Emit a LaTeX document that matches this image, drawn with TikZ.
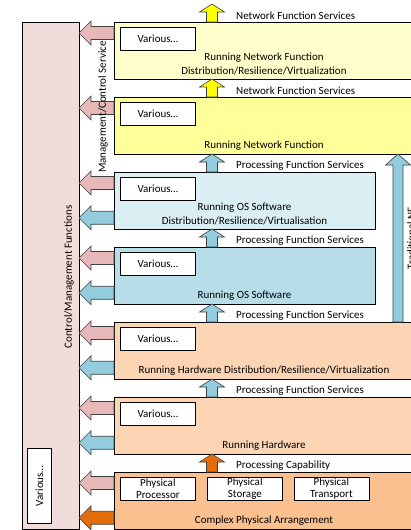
\documentclass[tikz,border=0pt]{standalone}
\usepackage{fontspec}
\setmainfont{Carlito}
\usetikzlibrary{calc}

\definecolor{colpink}{HTML}{F2DCDB}
\definecolor{arrpink}{HTML}{E6B9B8}
\definecolor{nfpale}{HTML}{FFFFCC}
\definecolor{nfyellow}{HTML}{FFFF99}
\definecolor{arryellow}{HTML}{FFFF00}
\definecolor{ospale}{HTML}{DAEEF3}
\definecolor{osblue}{HTML}{B7DEE8}
\definecolor{arrblue}{HTML}{93CDDD}
\definecolor{hwpeach}{HTML}{FCD5B4}
\definecolor{phyorange}{HTML}{FAC08F}
\definecolor{arrorange}{HTML}{E46C0A}

% block arrow pointing left, starting on a layer's left edge
\newcommand\leftblock[2]{%
  \draw[blockarrow, fill=#2] #1 ++(0,-6.5) -- ++(-23,0) -- ++(0,-5.5)
    -- ++(-12,12) -- ++(12,12) -- ++(0,-5.5) -- ++(23,0) -- cycle;}
% block arrow pointing up, starting on a layer's top edge
\newcommand\upblock[2]{%
  \draw[blockarrow, fill=#2] #1 ++(-5.5,0) -- ++(0,-10) -- ++(-7,0)
    -- ++(12.5,-8) -- ++(12.5,8) -- ++(-7,0) -- ++(0,10) -- cycle;}

\begin{document}
\begin{tikzpicture}[x=1pt, y=-1pt,
  every node/.style={font=\fontsize{11}{14}\selectfont, inner sep=0pt},
  layer/.style={draw=black, line width=0.75pt, anchor=north west, minimum height=57pt},
  wide/.style={minimum width=301pt},
  narrow/.style={minimum width=261pt},
  smallbox/.style={draw=black, line width=0.75pt, fill=white, anchor=north west,
    minimum width=75pt, minimum height=23pt, align=center,
    font=\fontsize{11}{12}\selectfont},
  blockarrow/.style={draw=black!75, line width=0.6pt, line join=miter},
  gaplabel/.style={anchor=west},
]
\useasboundingbox (0,0) rectangle (411,530);

% control / management column
\node[draw=black, line width=0.75pt, fill=colpink, anchor=north west,
      minimum width=57pt, minimum height=507pt] (col) at (22,22) {};
\node[draw=black, line width=0.75pt, fill=white, anchor=north west,
      minimum width=24pt, minimum height=75pt] (colv) at (27,448) {};
\node[rotate=90] at (colv.center) {Various…};

% stacked layers
\node[layer, wide, fill=nfpale]    (L1) at (114,22)  {};
\node[layer, wide, fill=nfyellow]  (L2) at (114,97)  {};
\node[layer, narrow, fill=ospale]  (L3) at (114,172) {};
\node[layer, narrow, fill=osblue]  (L4) at (114,247) {};
\node[layer, wide, fill=hwpeach]   (L5) at (114,322) {};
\node[layer, wide, fill=hwpeach]   (L6) at (114,397) {};
\node[layer, wide, fill=phyorange] (L7) at (114,472) {};

% layer captions
\node[align=center] at (264,63.5)  {Running Network Function\\Distribution/Resilience/Virtualization};
\node at (264,145.5) {Running Network Function};
\node[align=center] at (244.5,213.5) {Running OS Software\\Distribution/Resilience/Virtualisation};
\node at (244.5,295.5) {Running OS Software};
\node at (264,370.5) {Running Hardware Distribution/Resilience/Virtualization};
\node at (264,445.5) {Running Hardware};
\node at (264,520.5) {Complex Physical Arrangement};

% inner boxes
\node[smallbox] (v1) at (120,27)  {Various…};
\node[smallbox] (v2) at (120,102) {Various…};
\node[smallbox] (v3) at (120,177) {Various…};
\node[smallbox] (v4) at (120,252) {Various…};
\node[smallbox] (v5) at (120,327) {Various…};
\node[smallbox] (v6) at (120,402) {Various…};
\node[smallbox] (pp) at (120,477) {Physical\\Processor};
\node[smallbox] (ps) at (207,477) {Physical\\Storage};
\node[smallbox] (pt) at (293.5,477) {Physical\\Transport};

% services passed upwards
\upblock{($(L1.north west)+(98,0)$)}{arryellow}
\upblock{($(L2.north west)+(98,0)$)}{arryellow}
\upblock{($(L3.north west)+(98,0)$)}{arrblue}
\upblock{($(L4.north west)+(98,0)$)}{arrblue}
\upblock{($(L5.north west)+(98,0)$)}{arrblue}
\upblock{($(L6.north west)+(98,0)$)}{arrblue}
\upblock{($(L7.north west)+(98,0)$)}{arrorange}

\node[gaplabel] (s0) at (236,15.5)  {Network Function Services};
\node[gaplabel] (s1) at (236,90.5)  {Network Function Services};
\node[gaplabel] (s2) at (236,165.5) {Processing Function Services};
\node[gaplabel] (s3) at (236,240.5) {Processing Function Services};
\node[gaplabel] (s4) at (236,315.5) {Processing Function Services};
\node[gaplabel] (s5) at (236,390.5) {Processing Function Services};
\node[gaplabel] (s6) at (236,465.5) {Processing Capability};

% traditional NF bypass
\draw[blockarrow, fill=arrblue] ($(L5.north west)+(284,0)$) ++(-5,0) -- ++(0,-157)
  -- ++(-7.5,0) -- ++(12.5,-11) -- ++(12.5,11) -- ++(-7.5,0) -- ++(0,157) -- cycle;
\node[rotate=90] (tnf) at (411,238) {Traditional NF};

% control interfaces towards the management column
\leftblock{($(L1.north west)+(0,11)$)}{arrpink}
\leftblock{($(L2.north west)+(0,11)$)}{arrpink}
\leftblock{($(L3.north west)+(0,11)$)}{arrpink}
\leftblock{($(L3.south west)+(0,-12)$)}{arrblue}
\leftblock{($(L4.north west)+(0,11)$)}{arrpink}
\leftblock{($(L4.south west)+(0,-12)$)}{arrblue}
\leftblock{($(L5.north west)+(0,11)$)}{arrpink}
\leftblock{($(L5.south west)+(0,-12)$)}{arrblue}
\leftblock{($(L6.north west)+(0,11)$)}{arrpink}
\leftblock{($(L6.south west)+(0,-12)$)}{arrblue}
\leftblock{($(L7.north west)+(0,11)$)}{arrpink}
\leftblock{($(L7.south west)+(0,-12)$)}{arrorange}

% column captions
\node[rotate=90] at (69,277) {Control/Management Functions};
\node[rotate=90] at (103,107) {Management/Control Service};
\end{tikzpicture}
\end{document}
